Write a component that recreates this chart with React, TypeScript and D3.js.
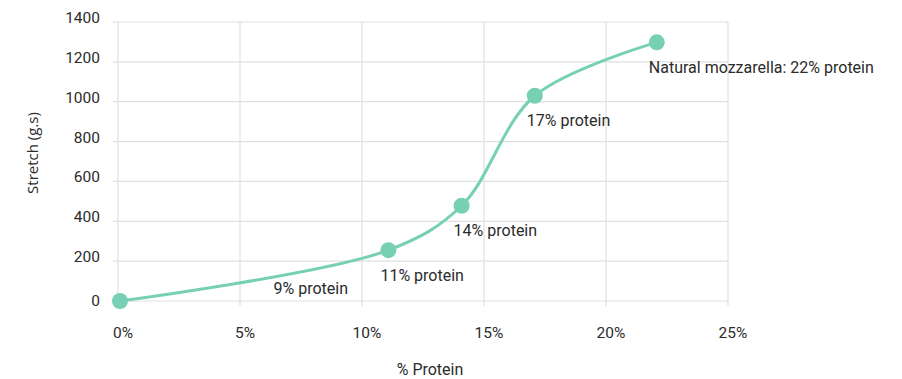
import React from "react";
import * as d3 from "d3";

const proteinPct = [0, 11, 14, 17, 22];
const stretchValues = [0, 255, 478, 1030, 1298];
const pointLabels = ["", "11% protein", "14% protein", "17% protein", "Natural mozzarella: 22% protein"];
const freeLabels = ["9% protein"];
const freeLabelX = [7.9];
const freeLabelY = [64];
const xTicks = [0, 5, 10, 15, 20, 25];
const yTicks = [0, 200, 400, 600, 800, 1000, 1200, 1400];

const W = 902;
const H = 379;
const LINE = "#77d0b4";
const GRID = "#e0e0e0";
const TEXT = "#2b2b2b";
const FONT = "Roboto, 'Open Sans', sans-serif";

export default function App() {
  const x = d3.scaleLinear().domain([0, 25]).range([118, 728]);
  const y = d3.scaleLinear().domain([0, 1400]).range([301, 22]);
  const pts = proteinPct.map((p, i) => [p, stretchValues[i]] as [number, number]);
  const line = d3
    .line<[number, number]>()
    .x((d) => x(d[0]) + 2)
    .y((d) => y(d[1]))
    .curve(d3.curveCatmullRom.alpha(0.5));

  return (
    <svg width={W} height={H} style={{ position: "absolute", left: 0, top: 0, background: "#fff" }} fontFamily={FONT}>
      {yTicks.map((t) => (
        <line key={"gy" + t} x1={113} x2={x(25)} y1={y(t)} y2={y(t)} stroke={GRID} strokeWidth={1.2} />
      ))}
      {xTicks.map((t) => (
        <line key={"gx" + t} x1={x(t)} x2={x(t)} y1={y(1400)} y2={y(0) + 5} stroke={GRID} strokeWidth={1.2} />
      ))}
      {yTicks.map((t) => (
        <text key={"ly" + t} x={100} y={y(t) - (t === 0 ? 0 : 4)} textAnchor="end" dominantBaseline="central" fontSize={15.5} fill={TEXT}>
          {t}
        </text>
      ))}
      {xTicks.map((t) => (
        <text key={"lx" + t} x={x(t) + 5} y={333} textAnchor="middle" dominantBaseline="central" fontSize={15.5} fill={TEXT}>
          {t + "%"}
        </text>
      ))}
      <text x={430} y={369} textAnchor="middle" dominantBaseline="central" fontSize={16} fill={TEXT}>
        % Protein
      </text>
      <text
        transform={`translate(32,153) rotate(-90)`}
        textAnchor="middle"
        dominantBaseline="central"
        fontSize={15}
        fill={TEXT}
        fontFamily="'Open Sans', sans-serif"
      >
        Stretch (g.s)
      </text>
      <path d={line(pts) || ""} fill="none" stroke={LINE} strokeWidth={3} />
      {pts.map((d, i) => (
        <circle key={"c" + i} cx={x(d[0]) + 2} cy={y(d[1])} r={8} fill={LINE} />
      ))}
      {pts.map((d, i) =>
        pointLabels[i] ? (
          <text key={"pl" + i} x={x(d[0]) + 2 - 8} y={y(d[1]) + 25} dominantBaseline="central" fontSize={16} fill={TEXT}>
            {pointLabels[i]}
          </text>
        ) : null
      )}
      {freeLabels.map((l, i) => (
        <text key={"fl" + i} x={x(freeLabelX[i])} y={y(freeLabelY[i])} textAnchor="middle" dominantBaseline="central" fontSize={16} fill={TEXT}>
          {l}
        </text>
      ))}
    </svg>
  );
}
